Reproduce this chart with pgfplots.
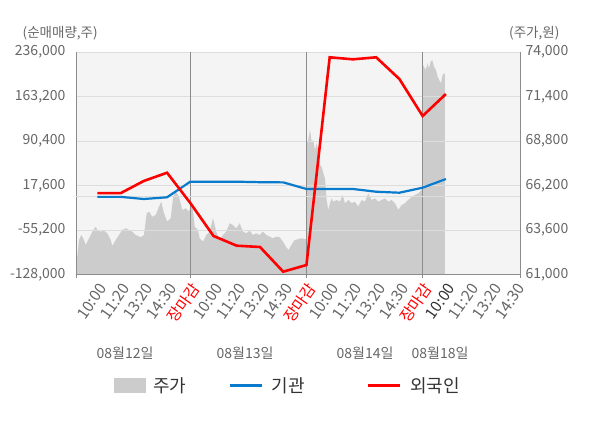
\documentclass[border=0pt]{standalone}
\usepackage{fontspec}
\setmainfont{Noto Sans CJK KR}
\usepackage{pgfplots}
\usepackage{pgfplotstable}
\pgfplotsset{compat=1.18}
\definecolor{bgc}{HTML}{F4F4F4}
\definecolor{areac}{HTML}{CCCCCC}
\definecolor{axgray}{HTML}{8C8C8C}
\definecolor{gridc}{HTML}{DDDDDD}
\definecolor{tickgray}{HTML}{666666}
\definecolor{bluec}{HTML}{0A7ACC}
\definecolor{redc}{HTML}{FF0000}
\definecolor{legtext}{HTML}{333333}
\newcommand\tlf{\fontsize{14}{16}\selectfont}
\newcommand\xlf{\fontsize{15.5}{17}\selectfont}

\pgfplotstableread{
u p
0.082 61000
0.082 61360
0.138 62040
0.211 63016
0.31 63310
0.426 63016
0.499 62720
0.641 63115
0.783 63500
0.93 63790
0.998 63600
1.145 63500
1.287 63560
1.43 63410
1.575 63016
1.644 62665
1.79 63016
1.932 63310
2.074 63600
2.22 63700
2.362 63600
2.504 63500
2.65 63310
2.866 63174
3.008 63310
3.124 64576
3.223 64670
3.365 64377
3.511 64476
3.653 64961
3.752 65254
3.868 64576
4.01 64085
4.157 64284
4.268 65546
4.372 65838
4.514 65546
4.656 64769
4.802 64868
4.944 64670
5.04 65061
5.116 64769
5.19 63790
5.331 63600
5.404 63115
5.546 62916
5.688 63310
5.835 63500
5.977 64284
6.119 63500
6.265 63016
6.407 63310
6.549 63500
6.695 63992
6.837 63892
6.979 63700
7.126 63992
7.268 63500
7.41 63407
7.556 63560
7.698 63310
7.84 63407
7.986 63310
8.128 63500
8.27 63310
8.416 63209
8.558 63115
8.7 63209
8.847 63174
8.989 62916
9.131 62589
9.234 62431
9.346 62720
9.492 63016
9.634 63057
9.776 63115
9.991 63057
10.009 68759
10.077 68859
10.151 69443
10.224 68759
10.293 68859
10.366 68274
10.439 68666
10.508 68274
10.581 67398
10.654 67299
10.723 66913
10.796 66621
10.869 65353
10.938 64769
11.011 65160
11.084 65452
11.153 65254
11.3 65353
11.441 65254
11.558 65645
11.657 65160
11.799 65353
11.945 65160
12.087 65254
12.229 64961
12.375 65353
12.517 65254
12.659 65744
12.806 65353
12.948 65452
13.09 65254
13.236 65353
13.378 65452
13.52 65254
13.666 65353
13.808 65160
13.95 64769
14.096 65061
14.238 65160
14.38 65353
14.527 65546
14.669 65645
14.811 65744
14.957 65937
14.995 65937
15.005 73241
15.056 73142
15.142 72949
15.198 73340
15.271 73048
15.344 73434
15.413 73533
15.486 73142
15.572 72949
15.645 72557
15.714 72364
15.788 72172
15.861 72657
15.93 72756
15.96 72716
15.96 61000
}\pricedata

\pgfplotstableread{
x inst foreign
1 -1000 5000
2 -1000 5000
3 -4500 25000
4 -1700 38500
5 23800 -11000
6 23800 -65000
7 23800 -80900
8 23000 -83000
9 22700 -123400
10 11900 -112500
11 11900 227300
12 11900 224000
13 7400 227300
14 5800 191800
15 14000 131300
16 28200 167300
}\flowdata

\begin{document}
\begin{tikzpicture}[x=1pt,y=1pt]
\useasboundingbox (0,0) rectangle (600,428);
% price axis (right)
\begin{axis}[
  at={(76pt,153.5pt)}, anchor=south west,
  scale only axis, width=444pt, height=222.5pt,
  xmin=0.082, xmax=19.19, ymin=61000, ymax=74000,
  axis x line=none, axis y line*=right,
  axis line style={draw=axgray, line width=0.9pt},
  axis background/.style={fill=bgc},
  major tick length=0pt,
  ytick={61000,63600,66200,68800,71400,74000},
  scaled y ticks=false,
  /pgf/number format/assume math mode=true,
  yticklabel style={font=\tlf, text=tickgray, xshift=2pt,
    /pgf/number format/.cd, fixed, precision=0, 1000 sep={,}},
]
\addplot[fill=areac, draw=none] table[x=u, y=p] {\pricedata};
\end{axis}
% flow axis (left)
\begin{axis}[
  at={(76pt,153.5pt)}, anchor=south west,
  scale only axis, width=444pt, height=222.5pt,
  xmin=0.082, xmax=19.19, ymin=-128000, ymax=236000,
  axis x line*=bottom, axis y line*=left,
  axis line style={draw=axgray, line width=0.9pt},
  major tick length=0pt,
  xtick={1,...,19},
  xticklabels={10:00,11:20,13:20,14:30,{\textcolor{redc}{장마감}},
    10:00,11:20,13:20,14:30,{\textcolor{redc}{장마감}},
    10:00,11:20,13:20,14:30,{\textcolor{redc}{장마감}},
    {\textcolor{legtext}{10:00}},11:20,13:20,14:30},
  xticklabel style={xshift=7.5pt, yshift=-8pt, rotate=55, anchor=east, font=\xlf, text=tickgray},
  extra x ticks={0.082,5,10,15,19.19},
  extra x tick labels={},
  extra x tick style={grid=major, major grid style={draw=axgray, line width=0.9pt},
     major tick length=4pt, tick align=outside, tick style={draw=axgray, line width=0.9pt}},
  ytick={-128000,-55200,17600,90400,163200,236000},
  ymajorgrids=true,
  y grid style={draw=gridc, line width=0.9pt},
  extra y ticks={0}, extra y tick labels={},
  extra y tick style={grid=major, major grid style={draw=axgray, line width=0.9pt}},
  scaled y ticks=false,
  /pgf/number format/assume math mode=true,
  yticklabel style={font=\tlf, text=tickgray, xshift=-7pt,
    /pgf/number format/.cd, fixed, precision=0, 1000 sep={,}},
]
\addplot[draw=bluec, line width=2.2pt] table[x=x, y=inst] {\flowdata};
\addplot[draw=redc, line width=2.6pt] table[x=x, y=foreign] {\flowdata};
\end{axis}
% unit labels
\node[anchor=west, font=\fontsize{13.5}{15}\selectfont, text=tickgray, inner sep=0] at (22.5,395) {(순매매량,주)};
\node[anchor=west, font=\fontsize{13.5}{15}\selectfont, text=tickgray, inner sep=0] at (509,395) {(주가,원)};
% date labels
\node[font=\fontsize{14}{16}\selectfont, text=tickgray] at (125,75) {08월12일};
\node[font=\fontsize{14}{16}\selectfont, text=tickgray] at (245,75) {08월13일};
\node[font=\fontsize{14}{16}\selectfont, text=tickgray] at (365,75) {08월14일};
\node[font=\fontsize{14}{16}\selectfont, text=tickgray] at (440,75) {08월18일};
% legend
\fill[areac] (114,35) rectangle (145.7,50);
\node[anchor=west, inner sep=0, font=\fontsize{18}{20}\selectfont, text=legtext] at (153,42.5) {주가};
\draw[bluec, line width=2.5pt] (230,42.5) -- (261.7,42.5);
\node[anchor=west, inner sep=0, font=\fontsize{18}{20}\selectfont, text=legtext] at (271.5,42.5) {기관};
\draw[redc, line width=2.5pt] (368,42.5) -- (400,42.5);
\node[anchor=west, inner sep=0, font=\fontsize{18}{20}\selectfont, text=legtext] at (410,42.5) {외국인};
\end{tikzpicture}
\end{document}
